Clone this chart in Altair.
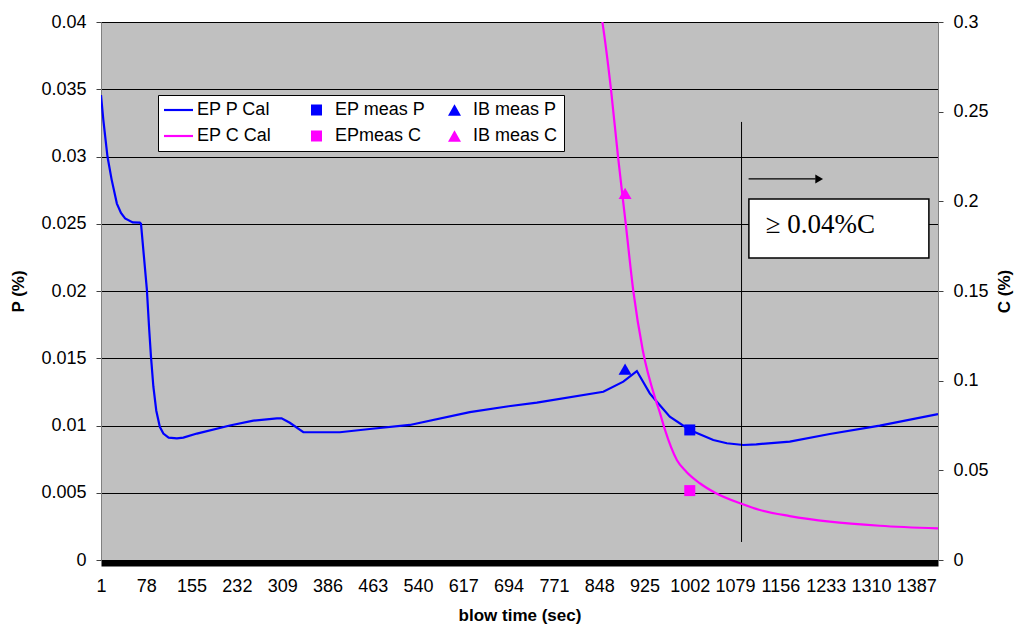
import altair as alt
import pandas as pd

# ---------------- data ----------------
# EP P Cal (left axis, P %)
T_P = [1, 5, 12, 19, 28, 35, 42, 55, 67, 69, 79, 83, 86, 90, 95, 101, 107, 116, 130, 141,
       164, 220, 260, 300, 308, 322, 345, 407, 458, 526, 628, 694, 742, 855, 889, 912,
       934, 946, 968, 1002, 1042, 1065, 1093, 1115, 1172, 1240, 1325, 1424]
P_CAL = [0.03457, 0.0327, 0.0300, 0.0283, 0.0265, 0.0258, 0.0254, 0.0251, 0.02508, 0.0250,
         0.0201, 0.0171, 0.0151, 0.0129, 0.0111, 0.0099, 0.0094, 0.0091, 0.00905, 0.0091,
         0.0094, 0.0100, 0.01036, 0.01053, 0.01053, 0.0102, 0.0095, 0.0095, 0.00974, 0.01004,
         0.0110, 0.01143, 0.0117, 0.01251, 0.01326, 0.01405, 0.01239, 0.01177, 0.01066, 0.00967,
         0.00892, 0.00868, 0.00855, 0.0086, 0.0088, 0.00937, 0.00999, 0.01085]

# EP C Cal (right axis, C %)
T_C = [849, 852, 868, 880, 893, 906, 922, 945, 951, 960, 980, 996, 1019, 1045, 1091, 1121,
       1172, 1240, 1325, 1424]
C_CAL = [0.309, 0.303, 0.2625, 0.2249, 0.1878, 0.150, 0.1171, 0.0883, 0.0823, 0.0724,
         0.0558, 0.0492, 0.0428, 0.0375, 0.0312, 0.0279, 0.0245, 0.0214, 0.0191, 0.0176]

# measurements
EP_MEAS_T = [1002]
EP_MEAS_P = [0.00967]
EP_MEAS_C = [0.0387]
IB_MEAS_T = [892]
IB_MEAS_P = [0.0142]
IB_MEAS_C = [0.2045]

# legend series (listed column by column: the legend fills its 3 columns top-down)
SERIES = ["EP P Cal", "EP C Cal", "EP meas P", "EPmeas C", "IB meas P", "IB meas C"]
SERIES_COLORS = ["#0000FF", "#FF00FF", "#0000FF", "#FF00FF", "#0000FF", "#FF00FF"]
LINE_SYMBOL = "M-1,-0.075H1V0.075H-1Z"
SERIES_SHAPES = [LINE_SYMBOL, LINE_SYMBOL, "square", "square", "triangle-up", "triangle-up"]
SERIES_SIZES = [841, 841, 121, 121, 169, 169]

# axes
X_DOMAIN = [1, 1424]
X_TICKS = [1, 78, 155, 232, 309, 386, 463, 540, 617, 694, 771, 848, 925, 1002, 1079,
           1156, 1233, 1310, 1387]
P_DOMAIN = [0, 0.04]
P_TICKS = [0, 0.005, 0.01, 0.015, 0.02, 0.025, 0.03, 0.035, 0.04]
C_DOMAIN = [0, 0.3]
C_TICKS = [0, 0.05, 0.1, 0.15, 0.2, 0.25, 0.3]

# annotation (data units on the P axis)
THRESH_T = [1090]
THRESH_P = [0.00134]
THRESH_P2 = [0.03257]
ARROW_T = [1102]
ARROW_T2 = [1216]
ARROW_HEAD_T = [1222]
ARROW_P = [0.02833]
BOX_T = [1102.5]
BOX_T2 = [1408.5]
BOX_P = [0.02245]
BOX_P2 = [0.02684]
NOTE_T = [1131]
NOTE_P = [0.02494]
NOTE_TEXT = ["\u2265 0.04%C"]

FONT = "Liberation Sans"
BLUE = "#0000FF"
MAGENTA = "#FF00FF"

# ---------------- encodings ----------------
x_enc = alt.X(
    "t:Q",
    scale=alt.Scale(domain=X_DOMAIN, nice=False, zero=False),
    axis=alt.Axis(
        values=X_TICKS, format="d", labelAngle=0, labelFlush=False, labelOverlap=False,
        ticks=False, tickSize=0, domain=True, domainColor="black", domainWidth=6,
        offset=3, grid=False, labelPadding=14,
        title="blow time (sec)", titleX=418.5, titleY=57,
        titleAlign="center", titleBaseline="alphabetic",
    ),
)

yP_enc = alt.Y(
    "P:Q",
    scale=alt.Scale(domain=P_DOMAIN, nice=False, zero=False),
    axis=alt.Axis(
        orient="left", values=P_TICKS, format="~g", grid=True, gridColor="black",
        gridWidth=1, gridOpacity=1, domainColor="#808080", tickColor="#404040",
        tickSize=5, labelPadding=10,
        title="P (%)", titleAngle=270, titleX=-83, titleY=269,
        titleAlign="center", titleBaseline="middle",
    ),
)

yC_enc = alt.Y(
    "C:Q",
    scale=alt.Scale(domain=C_DOMAIN, nice=False, zero=False),
    axis=alt.Axis(
        orient="right", values=C_TICKS, format="~g", grid=False,
        domainColor="#808080", tickColor="#404040", tickSize=5, labelPadding=10,
        title="C (%)", titleAngle=270, titleX=66, titleY=269,
        titleAlign="center", titleBaseline="middle",
    ),
)

legend = alt.Legend(
    title=None, orient="none", legendX=57, legendY=73, columns=3, gridAlign="all",
    fillColor="white", strokeColor="black", padding=6,
    labelFont=FONT, labelFontSize=18, labelColor="black", labelLimit=300,
    symbolOffset=0, labelOffset=4, clipHeight=18,
    columnPadding=14, rowPadding=8,
    symbolStrokeWidth=0, symbolOpacity=1,
)

# ---------------- left (P) layers ----------------
df_p = pd.DataFrame({"t": T_P, "P": P_CAL})
p_line = alt.Chart(df_p).mark_line(color=BLUE, strokeWidth=2.2, clip=True).encode(
    x=x_enc, y=yP_enc)

df_ep_p = pd.DataFrame({"t": EP_MEAS_T, "P": EP_MEAS_P})
ep_p = alt.Chart(df_ep_p).mark_point(shape="square", filled=True, size=121,
                                     color=BLUE, opacity=1).encode(x=x_enc, y=yP_enc)

df_ib_p = pd.DataFrame({"t": IB_MEAS_T, "P": IB_MEAS_P})
ib_p = alt.Chart(df_ib_p).mark_point(shape="triangle-up", filled=True, size=169,
                                     color=BLUE, opacity=1).encode(x=x_enc, y=yP_enc)

# legend carrier: points placed outside the clipped plot area
df_leg = pd.DataFrame({"series": SERIES, "t": [-500] * len(SERIES), "P": [-1] * len(SERIES)})
leg = alt.Chart(df_leg).mark_point(filled=True, opacity=1, clip=True).encode(
    x=x_enc, y=yP_enc,
    color=alt.Color("series:N", scale=alt.Scale(domain=SERIES, range=SERIES_COLORS),
                    legend=legend, sort=SERIES),
    shape=alt.Shape("series:N", scale=alt.Scale(domain=SERIES, range=SERIES_SHAPES),
                    legend=legend, sort=SERIES),
    size=alt.Size("series:N", scale=alt.Scale(type="ordinal", domain=SERIES, range=SERIES_SIZES),
                  legend=legend, sort=SERIES),
)

df_thr = pd.DataFrame({"t": THRESH_T, "P": THRESH_P, "P2": THRESH_P2})
thr = alt.Chart(df_thr).mark_rule(color="black", strokeWidth=1).encode(
    x=x_enc, y=yP_enc, y2=alt.Y2("P2"))

df_arrow = pd.DataFrame({"t": ARROW_T, "t2": ARROW_T2, "P": ARROW_P})
arrow = alt.Chart(df_arrow).mark_rule(color="black", strokeWidth=1.3).encode(
    x=x_enc, x2=alt.X2("t2"), y=yP_enc)

df_head = pd.DataFrame({"t": ARROW_HEAD_T, "P": ARROW_P})
head = alt.Chart(df_head).mark_point(shape="triangle-right", filled=True, size=80,
                                     color="black", opacity=1).encode(x=x_enc, y=yP_enc)

df_box = pd.DataFrame({"t": BOX_T, "t2": BOX_T2, "P": BOX_P, "P2": BOX_P2})
box = alt.Chart(df_box).mark_rect(fill="white", stroke="black", strokeWidth=1.5).encode(
    x=x_enc, x2=alt.X2("t2"), y=yP_enc, y2=alt.Y2("P2"))

df_note = pd.DataFrame({"t": NOTE_T, "P": NOTE_P, "label": NOTE_TEXT})
note = alt.Chart(df_note).mark_text(font="Liberation Serif", fontSize=27, align="left",
                                    baseline="middle", color="black").encode(
    x=x_enc, y=yP_enc, text="label:N")

left = alt.layer(p_line, ep_p, ib_p, leg, thr, arrow, head, box, note)

# ---------------- right (C) layers ----------------
df_c = pd.DataFrame({"t": T_C, "C": C_CAL})
c_line = alt.Chart(df_c).mark_line(color=MAGENTA, strokeWidth=2.2, clip=True,
                                   interpolate="monotone").encode(x=x_enc, y=yC_enc)

df_ep_c = pd.DataFrame({"t": EP_MEAS_T, "C": EP_MEAS_C})
ep_c = alt.Chart(df_ep_c).mark_point(shape="square", filled=True, size=121,
                                     color=MAGENTA, opacity=1).encode(x=x_enc, y=yC_enc)

df_ib_c = pd.DataFrame({"t": IB_MEAS_T, "C": IB_MEAS_C})
ib_c = alt.Chart(df_ib_c).mark_point(shape="triangle-up", filled=True, size=169,
                                     color=MAGENTA, opacity=1).encode(x=x_enc, y=yC_enc)

right = alt.layer(c_line, ep_c, ib_c)

chart = (
    alt.layer(left, right)
    .resolve_scale(y="independent")
    .properties(
        width=837, height=538,
        autosize=alt.AutoSizeParams(type="none"),
        padding={"left": 101, "top": 22, "right": 76, "bottom": 66},
        background="white",
    )
    .configure_view(fill="#C0C0C0", stroke="#808080", strokeWidth=1)
    .configure_axis(
        labelFont=FONT, labelFontSize=18, labelColor="black",
        titleFont=FONT, titleFontSize=17, titleFontWeight="bold", titleColor="black",
    )
)

chart.save("out.html", embed_options={"renderer": "svg", "actions": False})
